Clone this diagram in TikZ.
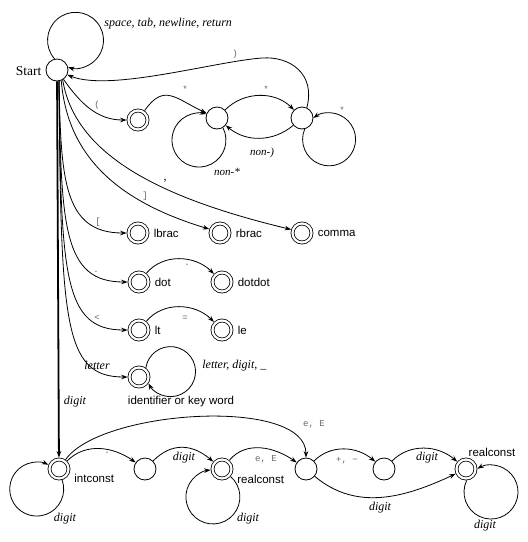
\documentclass[tikz,border=0pt]{standalone}
\usepackage{fontspec}
\setmainfont{Liberation Serif}
\setsansfont{Liberation Sans}
\setmonofont{Liberation Mono}
\usetikzlibrary{arrows.meta,calc}
% self loop drawn as a circular arc: #1 node, #2 angle to loop centre, #3 distance of loop centre, #4 loop radius
\newcommand\cwloop[4]{%
  \pgfmathsetmacro\lth{acos((#3*#3+#4*#4-130)/(2*#3*#4))}%
  \pgfmathsetmacro\lsa{#2+180-\lth}%
  \pgfmathsetmacro\lea{#2-180+\lth}%
  \draw[tr] ($(#1)+(#2:#3)+(\lsa:#4)$) arc[start angle=\lsa, end angle=\lea, radius=#4];}
\newcommand\ccwloop[4]{%
  \pgfmathsetmacro\lth{acos((#3*#3+#4*#4-130)/(2*#3*#4))}%
  \pgfmathsetmacro\lsa{#2+180+\lth}%
  \pgfmathsetmacro\lea{#2+540-\lth}%
  \draw[tr] ($(#1)+(#2:#3)+(\lsa:#4)$) arc[start angle=\lsa, end angle=\lea, radius=#4];}
\begin{document}
\begin{tikzpicture}[x=1pt,y=1pt,line width=0.8pt,
  st/.style={circle,draw,minimum size=22pt,inner sep=0pt},
  acc/.style={circle,draw,double,double distance=2.2pt,minimum size=19pt,inner sep=0pt,outer sep=1.9pt},
  tr/.style={-{Stealth[length=6.5pt,width=4.6pt]}},
  sym/.style={font=\ttfamily\fontsize{9}{10}\selectfont,text=black!60,inner sep=0pt},
  it/.style={font=\itshape\fontsize{12}{14}\selectfont,inner sep=0pt},
  nm/.style={font=\sffamily\fontsize{11.5}{13}\selectfont,inner sep=0pt},
]
\useasboundingbox (0,0) rectangle (528,-542);

% states
\node[st] (start) at (57,-70) {};
\node[font=\fontsize{13.5}{15}\selectfont,inner sep=0pt] (startlbl) at (28.5,-71) {Start};
\node[acc] (paren) at (138,-120) {};
\node[st] (A) at (217,-118) {};
\node[st] (B) at (302,-118) {};
\node[acc] (lbrac) at (138,-233) {};
\node[acc] (rbrac) at (220,-233) {};
\node[acc] (comma) at (302,-233) {};
\node[acc] (dot) at (139,-282) {};
\node[acc] (dotdot) at (222,-282) {};
\node[acc] (lt) at (139,-330) {};
\node[acc] (le) at (222,-330) {};
\node[acc] (ident) at (139,-377) {};
\node[acc] (intconst) at (59,-469) {};
\node[st] (C) at (145,-469) {};
\node[acc] (R1) at (222,-469) {};
\node[st] (D) at (306,-469) {};
\node[st] (E) at (384,-469) {};
\node[acc] (R2) at (466,-469) {};

% state names
\node[nm,anchor=west] (lbracname) at ([xshift=4pt]lbrac.east) {lbrac};
\node[nm,anchor=west] (rbracname) at ([xshift=4pt]rbrac.east) {rbrac};
\node[nm,anchor=west] (commaname) at ([xshift=4pt]comma.east) {comma};
\node[nm,anchor=west] (dotname) at ([xshift=4pt]dot.east) {dot};
\node[nm,anchor=west] (dotdotname) at ([xshift=4pt]dotdot.east) {dotdot};
\node[nm,anchor=west] (ltname) at ([xshift=4pt]lt.east) {lt};
\node[nm,anchor=west] (lename) at ([xshift=4pt]le.east) {le};
\node[nm] (identname) at (181,-402) {identifier or key word};
\node[nm,anchor=west] (intconstname) at (74,-478) {intconst};
\node[nm,anchor=west] (R1name) at (237,-479) {realconst};
\node[nm] (R2name) at (492,-452) {realconst};

% self loops
\cwloop{start}{58}{35}{28}
\cwloop{A}{230.7}{28.5}{27}
\ccwloop{B}{-38.2}{34.5}{26.5}
\cwloop{ident}{9.7}{32}{25}
\cwloop{intconst}{222}{30}{27}
\cwloop{R1}{252}{29.4}{27}
\ccwloop{R2}{-42.6}{34}{27}

% comment part
\draw[tr] (start) to[out=-55,in=180] (paren);
\draw[tr] (paren) to[out=55,in=155,looseness=1.4] (A);
\draw[tr] (A) to[out=45,in=135] (B);
\draw[tr] (B) to[out=-140,in=-40] (A);
\draw[tr] (B.65) .. controls +(75:35) and (290,-56) .. (262,-58)
          .. controls (215,-61.4) and (110,-92) .. (start.-25);

% single char tokens
\draw[tr] (start.-60) .. controls (75,-155) and (160,-198) .. (comma.162);
\draw[tr] (start.-68) .. controls (68,-165) and (130,-205) .. (rbrac.160);
\draw[tr] (start.-80) .. controls (61,-178) and (63,-233) .. (lbrac);
\draw[tr] (start.-80) .. controls (61,-227) and (63,-282) .. (dot);
\draw[tr] (start.-80) .. controls (61,-275) and (63,-330) .. (lt);
\draw[tr] (start.-80) .. controls (61,-322) and (63,-377) .. (ident);
\draw[tr] (dot) to[out=50,in=135] (dotdot);
\draw[tr] (lt) to[out=50,in=135] (le);

% numbers
\draw[tr,line width=1.8pt] (start) -- (intconst);
\draw[tr] (intconst) to[out=45,in=145] (C);
\draw[tr] (C) to[out=45,in=140,looseness=1.15] (R1);
\draw[tr] (R1) to[out=50,in=145] (D);
\draw[tr] (intconst) to[out=55,in=90,looseness=0.65] (D);
\draw[tr] (D) to[out=45,in=140] (E);
\draw[tr] (E) to[out=45,in=140] (R2);
\draw[tr] (D) to[out=-40,in=-155] (R2);

% edge labels
\node[it,anchor=west] (lws) at (104,-24) {space, tab, newline, return};
\node[sym] (lparen) at (97,-105) {(};
\node[sym] (lstar1) at (185,-89) {*};
\node[sym] (lstar2) at (266,-89) {*};
\node[sym] (lstar3) at (342,-110) {*};
\node[sym] (lrpar) at (235,-54) {)};
\node[it,font=\itshape\fontsize{11}{13}\selectfont] (lnonstar) at (227,-172) {non-*};
\node[it,font=\itshape\fontsize{11}{13}\selectfont] (lnonpar) at (262,-153) {non-)};
\node[font=\fontsize{12}{14}\selectfont,inner sep=0pt] (lcomma) at (165,-181) {,};
\node[sym] (lrbr) at (145,-196) {]};
\node[sym] (llbr) at (98,-222) {[};
\node[sym] (ldot1) at (96,-272) {.};
\node[sym] (ldot2) at (187,-265) {.};
\node[sym] (llt) at (97,-318) {<};
\node[sym] (leq) at (185,-318) {=};
\node[it] (lletter) at (97,-365) {letter};
\node[it,anchor=west] (lldu) at (202,-366) {letter, digit, \_};
\node[it] (ldigit0) at (75,-402) {digit};
\node[it] (ldigit1) at (65,-519) {digit};
\node[sym] (ldot3) at (107,-453) {.};
\node[it] (ldigit2) at (184,-458) {digit};
\node[it] (ldigit3) at (248,-519) {digit};
\node[sym] (le1) at (266,-459) {e, E};
\node[sym] (le2) at (314,-424) {e, E};
\node[sym] (lpm) at (347,-461) {+, −};
\node[it] (ldigit4) at (427,-458) {digit};
\node[it] (ldigit5) at (380,-508) {digit};
\node[it] (ldigit6) at (485,-526) {digit};
\end{tikzpicture}
\end{document}
